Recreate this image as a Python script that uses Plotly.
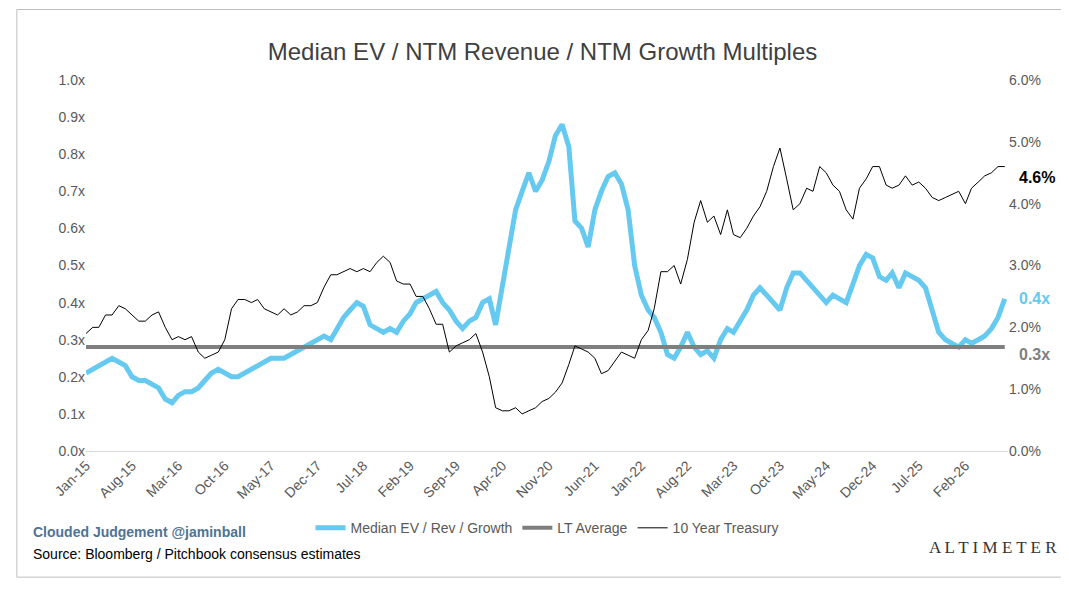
import pandas as pd
import plotly.graph_objects as go

dates = pd.date_range("2015-01-01", "2026-08-01", freq="MS")

multiple = [
    0.21, 0.22, 0.23, 0.24, 0.25, 0.24, 0.23, 0.20, 0.19, 0.19, 0.18, 0.17,
    0.14, 0.13, 0.15, 0.16, 0.16, 0.17, 0.19, 0.21, 0.22, 0.21, 0.20, 0.20,
    0.21, 0.22, 0.23, 0.24, 0.25, 0.25, 0.25, 0.26, 0.27, 0.28, 0.29, 0.30,
    0.31, 0.30, 0.33, 0.36, 0.38, 0.40, 0.39, 0.34, 0.33, 0.32, 0.33, 0.32,
    0.35, 0.37, 0.40, 0.41, 0.42, 0.43, 0.40, 0.38, 0.35, 0.33, 0.35, 0.36,
    0.40, 0.41, 0.34, 0.45, 0.55, 0.65, 0.70, 0.75, 0.70, 0.73, 0.78, 0.85,
    0.88, 0.82, 0.62, 0.60, 0.55, 0.65, 0.70, 0.74, 0.75, 0.72, 0.65, 0.50,
    0.42, 0.38, 0.36, 0.32, 0.26, 0.25, 0.28, 0.32, 0.28, 0.26, 0.27, 0.25,
    0.30, 0.33, 0.32, 0.35, 0.38, 0.42, 0.44, 0.42, 0.40, 0.38, 0.44, 0.48,
    0.48, 0.46, 0.44, 0.42, 0.40, 0.42, 0.41, 0.40, 0.45, 0.50, 0.53, 0.52,
    0.47, 0.46, 0.48, 0.44, 0.48, 0.47, 0.46, 0.44, 0.38, 0.32, 0.30, 0.29,
    0.28, 0.30, 0.29, 0.30, 0.31, 0.33, 0.36, 0.41,
]

treasury = [
    1.9, 2.0, 2.0, 2.2, 2.2, 2.35, 2.3, 2.2, 2.1, 2.1, 2.2, 2.25,
    2.0, 1.8, 1.85, 1.8, 1.85, 1.6, 1.5, 1.55, 1.6, 1.8, 2.3, 2.45,
    2.45, 2.4, 2.45, 2.3, 2.25, 2.2, 2.3, 2.2, 2.25, 2.35, 2.35, 2.4,
    2.65, 2.85, 2.85, 2.9, 2.95, 2.9, 2.95, 2.9, 3.05, 3.15, 3.05, 2.75,
    2.7, 2.7, 2.5, 2.5, 2.3, 2.05, 2.05, 1.6, 1.7, 1.75, 1.8, 1.9,
    1.6, 1.2, 0.7, 0.65, 0.65, 0.7, 0.6, 0.65, 0.7, 0.8, 0.85, 0.95,
    1.1, 1.4, 1.7, 1.65, 1.6, 1.5, 1.25, 1.3, 1.45, 1.6, 1.55, 1.5,
    1.8, 1.95, 2.3, 2.9, 2.9, 3.0, 2.7, 3.1, 3.7, 4.05, 3.7, 3.8,
    3.5, 3.9, 3.5, 3.45, 3.6, 3.8, 3.95, 4.2, 4.6, 4.9, 4.4, 3.9,
    4.0, 4.25, 4.2, 4.6, 4.5, 4.3, 4.2, 3.9, 3.75, 4.25, 4.4, 4.6,
    4.6, 4.3, 4.25, 4.3, 4.45, 4.3, 4.35, 4.25, 4.1, 4.05, 4.1, 4.15,
    4.2, 4.0, 4.25, 4.35, 4.45, 4.5, 4.6, 4.6,
]

lt_average = 0.28
tick_dates = pd.date_range("2015-01-01", "2026-02-01", freq="7MS")

blue = "#66C9F0"
gray = "#7F7F7F"

fig = go.Figure()
fig.add_trace(go.Scatter(x=dates, y=multiple, mode="lines", name="Median EV / Rev / Growth",
                         line=dict(color=blue, width=5)))
fig.add_trace(go.Scatter(x=[dates[0], dates[-1]], y=[lt_average, lt_average], mode="lines",
                         name="LT Average", line=dict(color=gray, width=4)))
fig.add_trace(go.Scatter(x=dates, y=treasury, mode="lines", name="10 Year Treasury",
                         line=dict(color="black", width=1), yaxis="y2"))

fig.add_annotation(x=1.01, xref="paper", y=treasury[-1] / 6, yref="paper", text="<b>4.6%</b>",
                   showarrow=False, xanchor="left", font=dict(size=16, color="black"))
fig.add_annotation(x=1.01, xref="paper", y=multiple[-1], yref="y", text="<b>0.4x</b>",
                   showarrow=False, xanchor="left", font=dict(size=16, color=blue))
fig.add_annotation(x=1.01, xref="paper", y=lt_average - 0.02, yref="y", text="<b>0.3x</b>",
                   showarrow=False, xanchor="left", font=dict(size=16, color=gray))

# footer
fig.add_annotation(x=-0.06, xref="paper", y=-0.245, yref="paper", text="<b>Clouded Judgement @jaminball</b>",
                   showarrow=False, xanchor="left", font=dict(size=14, color="#4F7394", family="Arial"))
fig.add_annotation(x=-0.06, xref="paper", y=-0.305, yref="paper", text="Source: Bloomberg / Pitchbook consensus estimates",
                   showarrow=False, xanchor="left", font=dict(size=14, color="black", family="Arial"))
fig.add_annotation(x=1.055, xref="paper", y=-0.29, yref="paper", text="A L T I M E T E R",
                   showarrow=False, xanchor="right", font=dict(size=17, color="#333333", family="Liberation Serif"))

fig.update_layout(
    title=dict(text="Median EV / NTM Revenue / NTM Growth Multiples", x=0.5, y=0.94,
               font=dict(size=24, color="#404040")),
    width=1069, height=589,
    margin=dict(l=78, r=69, t=72, b=146),
    plot_bgcolor="white", paper_bgcolor="white",
    font=dict(family="Arial", size=14, color="#595959"),
    xaxis=dict(range=[dates[0], dates[-1] + pd.Timedelta(days=15)], tickvals=tick_dates,
               tickformat="%b-%y", tickangle=-45, showgrid=False, showline=True,
               linecolor="#D9D9D9", ticks=""),
    yaxis=dict(range=[0, 1.0], dtick=0.1, tickformat=".1f", ticksuffix="x",
               showgrid=False, zeroline=False),
    yaxis2=dict(range=[0, 6], dtick=1, ticksuffix=".0%", tickformat="d", overlaying="y",
                side="right", showgrid=False, zeroline=False),
    legend=dict(orientation="h", x=0.5, xanchor="center", y=-0.165, yanchor="top",
                font=dict(size=14, color="#595959")),
    shapes=[dict(type="rect", xref="paper", yref="paper", x0=-0.075, x1=1.065, y0=-0.34, y1=1.19,
                 line=dict(color="#BFBFBF", width=1))],
)

fig.write_html("out.html")
